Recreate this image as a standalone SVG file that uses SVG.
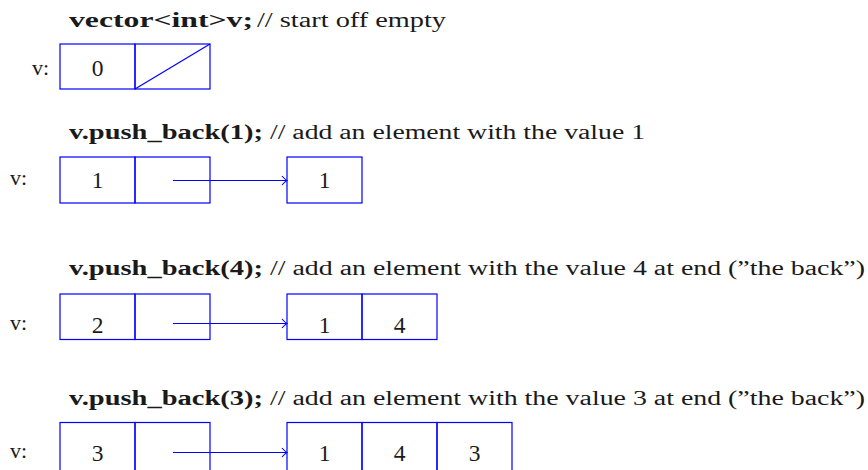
<svg xmlns="http://www.w3.org/2000/svg" width="868" height="470" viewBox="0 0 868 470">
<style>
.cell{fill:none;stroke:#0000ff;stroke-width:1.2}
.ptr{stroke:#0000ff;stroke-width:1.2;fill:none}
.title{font-family:"Liberation Serif","DejaVu Serif",serif;font-size:20px;fill:#1a1a1a}
.b{font-weight:bold}
.lbl{font-family:"Liberation Serif","DejaVu Serif",serif;font-size:22px;fill:#1a1a1a}
.num{font-family:"Liberation Serif","DejaVu Serif",serif;font-size:23.5px;fill:#1a1a1a;text-anchor:middle}
</style>
<defs>
<marker id="arr" markerWidth="10" markerHeight="12" refX="7" refY="6" orient="auto" markerUnits="userSpaceOnUse">
<path d="M2,1.5 Q5,5 7,6 Q5,7 2,10.5" fill="none" stroke="#0000ff" stroke-width="1.1"/>
</marker>
</defs>

<g id="title1"><text class="title" x="69" y="27"><tspan class="b" textLength="184" lengthAdjust="spacingAndGlyphs">vector&lt;int&gt;v;</tspan><tspan x="257" textLength="189" lengthAdjust="spacingAndGlyphs">// start off empty</tspan></text></g>
<g id="title2"><text class="title" x="69" y="139"><tspan class="b" textLength="194" lengthAdjust="spacingAndGlyphs">v.push_back(1);</tspan><tspan x="270" textLength="375" lengthAdjust="spacingAndGlyphs">// add an element with the value 1</tspan></text></g>
<g id="title3"><text class="title" x="69" y="275"><tspan class="b" textLength="194" lengthAdjust="spacingAndGlyphs">v.push_back(4);</tspan><tspan x="270" textLength="595" lengthAdjust="spacingAndGlyphs">// add an element with the value 4 at end (”the back”)</tspan></text></g>
<g id="title4"><text class="title" x="69" y="405"><tspan class="b" textLength="194" lengthAdjust="spacingAndGlyphs">v.push_back(3);</tspan><tspan x="270" textLength="595" lengthAdjust="spacingAndGlyphs">// add an element with the value 3 at end (”the back”)</tspan></text></g>

<g id="v0">
<text class="lbl" x="32" y="75">v:</text>
<rect class="cell" x="60" y="44" width="75" height="45"/>
<rect class="cell" x="135" y="44" width="75" height="45"/>
<line class="ptr" x1="135" y1="89" x2="210" y2="44"/>
<text class="num" x="97.5" y="76">0</text>
</g>

<g id="v1">
<text class="lbl" x="10" y="185">v:</text>
<rect class="cell" x="60" y="157" width="75" height="46"/>
<rect class="cell" x="135" y="157" width="75" height="46"/>
<text class="num" x="97.5" y="188">1</text>
</g>
<g id="arr1">
<rect class="cell" x="287" y="157" width="75" height="46"/>
<text class="num" x="324.5" y="188">1</text>
</g>

<g id="v2">
<text class="lbl" x="10" y="330">v:</text>
<rect class="cell" x="60" y="294" width="75" height="45.5"/>
<rect class="cell" x="135" y="294" width="75" height="45.5"/>
<text class="num" x="97.5" y="333">2</text>
</g>
<g id="arr2">
<rect class="cell" x="287" y="294" width="75" height="45.5"/>
<rect class="cell" x="362" y="294" width="75" height="45.5"/>
<text class="num" x="324.5" y="333">1</text>
<text class="num" x="399.5" y="333">4</text>
</g>

<g id="v3">
<text class="lbl" x="10" y="458">v:</text>
<rect class="cell" x="60" y="422.5" width="75" height="50"/>
<rect class="cell" x="135" y="422.5" width="75" height="50"/>
<text class="num" x="97.5" y="461">3</text>
</g>
<g id="arr3">
<rect class="cell" x="287" y="422.5" width="75" height="50"/>
<rect class="cell" x="362" y="422.5" width="75" height="50"/>
<rect class="cell" x="437" y="422.5" width="75" height="50"/>
<text class="num" x="324.5" y="461">1</text>
<text class="num" x="399.5" y="461">4</text>
<text class="num" x="474.5" y="461">3</text>
</g>

<g id="connectors">
<line class="ptr" x1="173" y1="180.5" x2="287" y2="180.5" marker-end="url(#arr)"/>
<line class="ptr" x1="173" y1="323.5" x2="287" y2="323.5" marker-end="url(#arr)"/>
<line class="ptr" x1="173" y1="452.5" x2="287" y2="452.5" marker-end="url(#arr)"/>
</g>
</svg>
